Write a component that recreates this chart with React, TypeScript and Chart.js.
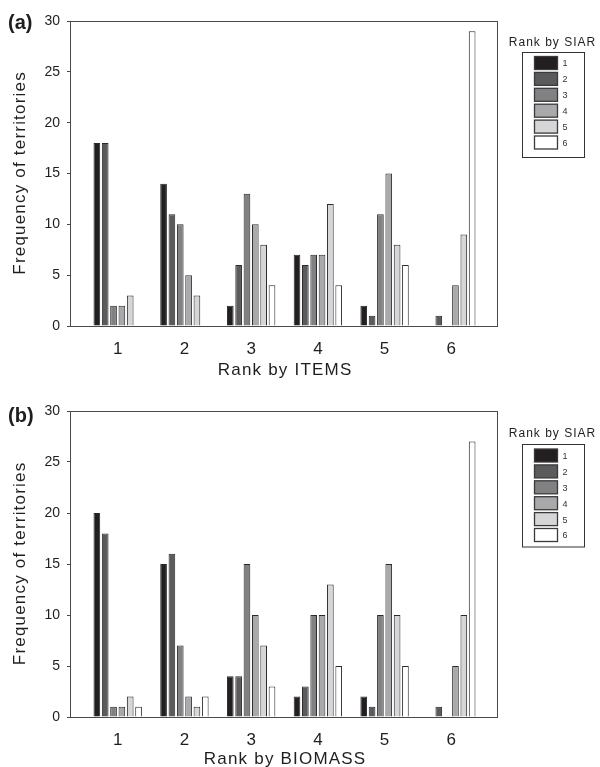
import React, { useEffect, useRef } from 'react';
import { Chart, registerables } from 'chart.js';

Chart.register(...registerables);

const FONT = "'Liberation Sans', Arial, Helvetica, sans-serif";

// Categories (x) and series (Rank by SIAR)
const categories = ['1', '2', '3', '4', '5', '6'];
const siarRanks = ['1', '2', '3', '4', '5', '6'];
const yMin = 0;
const yMax = 30;
const yStep = 5;

// Panel (a): Rank by ITEMS
const itemsSiar1 = [18, 14, 2, 7, 2, 0];
const itemsSiar2 = [18, 11, 6, 6, 1, 1];
const itemsSiar3 = [2, 10, 13, 7, 11, 0];
const itemsSiar4 = [2, 5, 10, 7, 15, 4];
const itemsSiar5 = [3, 3, 8, 12, 8, 9];
const itemsSiar6 = [0, 0, 4, 4, 6, 29];

// Panel (b): Rank by BIOMASS
const biomassSiar1 = [20, 15, 4, 2, 2, 0];
const biomassSiar2 = [18, 16, 4, 3, 1, 1];
const biomassSiar3 = [1, 7, 15, 10, 10, 0];
const biomassSiar4 = [1, 2, 10, 10, 15, 5];
const biomassSiar5 = [2, 1, 7, 13, 10, 10];
const biomassSiar6 = [1, 2, 3, 5, 5, 27];

const siarColors = ['#231f20', '#5b5b5d', '#818184', '#a9a9ac', '#d6d6d8', '#ffffff'];

type PanelOpts = {
  panel: string;
  xTitle: string;
  yTitle: string;
  panelBaseline: number;
  xTitleOffset: number;
  legendTitleY: number;
  boxTop: number;
  boxBottom: number;
  swatchTop: number;
};

const decorPlugin = {
  id: 'decor',
  afterDraw(chart: any, _args: any, opts: PanelOpts) {
    const { ctx } = chart;
    const { left, right, top, bottom } = chart.chartArea;
    ctx.save();
    // frame
    ctx.strokeStyle = '#4a4a4a';
    ctx.lineWidth = 1;
    ctx.strokeRect(Math.round(left) - 0.5, Math.round(top) + 0.5, Math.round(right - left), Math.round(bottom - top));

    ctx.fillStyle = '#1e1e1e';
    // panel label
    ctx.font = `bold 20px ${FONT}`;
    ctx.textAlign = 'left';
    ctx.textBaseline = 'alphabetic';
    ctx.fillText(opts.panel, 8, opts.panelBaseline);

    // x title
    ctx.font = `17px ${FONT}`;
    (ctx as any).letterSpacing = '1.2px';
    ctx.textAlign = 'center';
    ctx.fillText(opts.xTitle, (left + right) / 2 + 0.6, bottom + opts.xTitleOffset);

    // y title
    ctx.save();
    ctx.translate(25, (top + bottom) / 2);
    ctx.rotate(-Math.PI / 2);
    ctx.fillText(opts.yTitle, 0.6, 0);
    ctx.restore();

    // legend title
    ctx.font = `12px ${FONT}`;
    (ctx as any).letterSpacing = '1px';
    ctx.fillText('Rank by SIAR', 552.5, opts.legendTitleY);
    (ctx as any).letterSpacing = '0px';

    // legend box
    ctx.strokeStyle = '#333333';
    ctx.lineWidth = 1;
    ctx.strokeRect(522.5, opts.boxTop + 0.5, 62, opts.boxBottom - opts.boxTop);

    const step = 15.9;
    ctx.font = `9px ${FONT}`;
    ctx.textBaseline = 'middle';
    siarRanks.forEach((r, i) => {
      const y = opts.swatchTop + i * step;
      ctx.fillStyle = siarColors[i];
      ctx.fillRect(534.5, y, 23, 13);
      ctx.strokeStyle = '#3a3a3a';
      ctx.lineWidth = 1.3;
      ctx.strokeRect(534.5, y, 23, 13);
      ctx.fillStyle = '#333333';
      ctx.fillText(r, 565, y + 7.5);
    });
    ctx.restore();
  },
};

function buildDatasets(series: number[][]) {
  return series.map((vals, i) => ({
    label: siarRanks[i],
    data: vals.map((v, j) => ({ x: j + 1, y: v })),
    backgroundColor: siarColors[i],
    borderColor: '#2a2a2a',
    borderWidth: 1,
    categoryPercentage: 0.75,
    barPercentage: 0.8,
  }));
}

function Panel({ series, top, height, plotTop, plotBottom, opts }: {
  series: number[][];
  top: number;
  height: number;
  plotTop: number;
  plotBottom: number;
  opts: PanelOpts;
}) {
  const ref = useRef<HTMLCanvasElement>(null);
  useEffect(() => {
    const chart = new Chart(ref.current as HTMLCanvasElement, {
      type: 'bar',
      data: { datasets: buildDatasets(series) as any },
      plugins: [decorPlugin as any],
      options: {
        responsive: false,
        animation: false,
        events: [],
        layout: { padding: { top: plotTop, left: 0, right: 102, bottom: 0 } },
        plugins: {
          legend: { display: false },
          tooltip: { enabled: false },
          decor: opts,
        } as any,
        scales: {
          x: {
            type: 'linear',
            min: 0.3,
            max: 6.7,
            offset: false,
            grid: { display: false },
            border: { display: false },
            afterBuildTicks: (axis: any) => {
              axis.ticks = categories.map((_c, i) => ({ value: i + 1 }));
            },
            afterFit: (axis: any) => {
              axis.height = height - plotBottom;
            },
            ticks: {
              padding: 5,
              color: '#1e1e1e',
              font: { family: FONT, size: 17 },
              callback: (v: any) => categories[Math.round(Number(v)) - 1] ?? '',
              maxRotation: 0,
              autoSkip: false,
            },
          },
          y: {
            min: yMin,
            max: yMax,
            grid: { drawOnChartArea: false, drawTicks: true, tickLength: 4, color: '#4a4a4a' },
            border: { display: false },
            afterFit: (axis: any) => {
              axis.width = 71;
            },
            ticks: {
              stepSize: yStep,
              padding: 7,
              color: '#1e1e1e',
              font: { family: FONT, size: 14 },
            },
          },
        } as any,
      },
    });
    return () => chart.destroy();
  }, []);
  return (
    <canvas
      ref={ref}
      width={600}
      height={height}
      style={{ position: 'absolute', left: 0, top, width: 600, height, display: 'block' }}
    />
  );
}

export default function App() {
  return (
    <div style={{ position: 'absolute', left: 0, top: 0, width: 600, height: 767, background: '#ffffff' }}>
      <Panel
        series={[itemsSiar1, itemsSiar2, itemsSiar3, itemsSiar4, itemsSiar5, itemsSiar6]}
        top={0}
        height={384}
        plotTop={21}
        plotBottom={326}
        opts={{
          panel: '(a)',
          xTitle: 'Rank by ITEMS',
          yTitle: 'Frequency of territories',
          panelBaseline: 29,
          xTitleOffset: 49,
          legendTitleY: 46,
          boxTop: 52,
          boxBottom: 157,
          swatchTop: 56.5,
        }}
      />
      <Panel
        series={[biomassSiar1, biomassSiar2, biomassSiar3, biomassSiar4, biomassSiar5, biomassSiar6]}
        top={384}
        height={383}
        plotTop={27}
        plotBottom={333}
        opts={{
          panel: '(b)',
          xTitle: 'Rank by BIOMASS',
          yTitle: 'Frequency of territories',
          panelBaseline: 37.5,
          xTitleOffset: 47,
          legendTitleY: 53.3,
          boxTop: 60,
          boxBottom: 162.5,
          swatchTop: 65,
        }}
      />
    </div>
  );
}
